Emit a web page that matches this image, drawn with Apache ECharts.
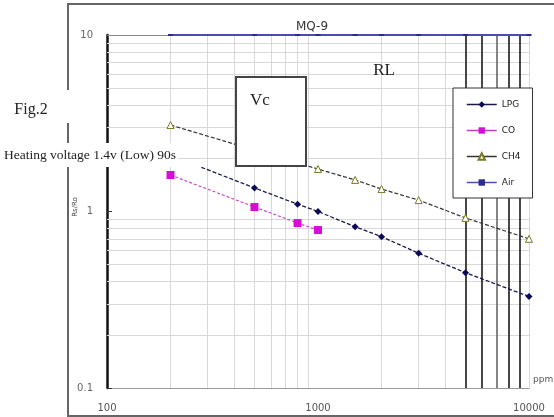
<!DOCTYPE html>
<html>
<head>
<meta charset="utf-8">
<script src="https://cdn.jsdelivr.net/npm/echarts@6/dist/echarts.min.js"></script>
<style>html,body{margin:0;padding:0;background:#fff;}#c{width:554px;height:417px;}</style>
</head>
<body>
<div id="c"></div>
<script>
// ---- data (ppm, Rs/Ro) ----
const seriesNames = ['LPG', 'CO', 'CH4', 'Air'];
const lpgPpm = [280, 500, 800, 1000, 1500, 2000, 3000, 5000, 10000];
const lpgRs  = [1.78, 1.36, 1.10, 1.00, 0.82, 0.72, 0.58, 0.45, 0.33];
const coPpm  = [200, 500, 800, 1000];
const coRs   = [1.61, 1.06, 0.86, 0.785];
const ch4Ppm = [200, 1000, 1500, 2000, 3000, 5000, 10000];
const ch4Rs  = [3.09, 1.74, 1.51, 1.34, 1.16, 0.92, 0.70];
const airPpm = [200, 500, 800, 1000, 1500, 2000, 3000, 5000, 10000];
const airRs  = [10, 10, 10, 10, 10, 10, 10, 10, 10];
// grid lines (axis values)
const gridXLight = [200, 300, 400, 500, 600, 700, 800, 900, 2000, 3000, 4000, 10000];
const gridXHeavy = [5000, 6000, 7000, 8000, 9000];
const gridYLight = [0.2, 0.3, 0.4, 0.5, 0.6, 0.7, 0.8, 0.9, 2, 3, 4, 5, 6, 7, 8, 9, 10];

const pair = (xs, ys) => xs.map((x, i) => [x, ys[i]]);

const chart = echarts.init(document.getElementById('c'), null, {renderer: 'canvas'});

const markData = [];
gridXLight.forEach(v => markData.push({xAxis: v, lineStyle: {color: '#d8d8d8', width: 1, type: 'solid'}}));
gridYLight.forEach(v => markData.push({yAxis: v, lineStyle: {color: v === 10 ? '#888' : '#d8d8d8', width: 1, type: 'solid'}}));
gridXHeavy.forEach(v => markData.push({xAxis: v, lineStyle: {color: v === 7000 ? '#666' : '#1a1a1a', width: 1.6, type: 'solid'}}));

const serifFont = '"Liberation Serif", "DejaVu Serif", serif';
const sansFont = '"DejaVu Sans", "Liberation Sans", sans-serif';

chart.setOption({
  animation: false,
  backgroundColor: '#fff',
  grid: {left: 107, right: 25, top: 35, bottom: 29, containLabel: false},
  legend: {
    data: seriesNames,
    orient: 'vertical',
    left: 453, top: 88,
    width: 83,
    backgroundColor: '#fff',
    borderColor: '#333', borderWidth: 1,
    padding: [12, 12, 11, 13],
    itemWidth: 30, itemHeight: 8, itemGap: 17,
    lineStyle: {type: 'solid', width: 1.5},
    textStyle: {fontSize: 9, color: '#222', fontFamily: sansFont},
    z: 20
  },
  xAxis: {
    type: 'log', logBase: 10, min: 100, max: 10000,
    axisLine: {lineStyle: {color: '#999', width: 1}},
    axisTick: {show: false},
    axisLabel: {margin: 15, fontSize: 10, color: '#555', fontFamily: sansFont, formatter: v => String(v)},
    splitLine: {show: false}
  },
  yAxis: {
    type: 'log', logBase: 10, min: 0.1, max: 10,
    axisLine: {show: true, lineStyle: {color: '#111', width: 2.5}},
    axisTick: {show: true, inside: true, length: 5, lineStyle: {color: '#333'}},
    axisLabel: {margin: 14, fontSize: 10, color: '#666', fontFamily: sansFont, formatter: v => String(v)},
    splitLine: {show: false}
  },
  series: [
    {
      name: 'grid', type: 'line', data: [], silent: true,
      markLine: {silent: true, symbol: 'none', label: {show: false}, animation: false, data: markData},
      z: 1
    },
    {
      name: 'LPG', type: 'line', z: 5,
      data: pair(lpgPpm, lpgRs).map((p, i) => i === 0 ? {value: p, symbol: 'none'} : p),
      symbol: 'diamond', symbolSize: 7,
      itemStyle: {color: '#0a0a5a'},
      lineStyle: {color: '#1a1a4a', width: 1.3, type: [4, 2]}
    },
    {
      name: 'CO', type: 'line', z: 5,
      data: pair(coPpm, coRs),
      symbol: 'rect', symbolSize: 8,
      itemStyle: {color: '#d80cd8'},
      lineStyle: {color: '#c040c0', width: 1.1, type: [3, 2]}
    },
    {
      name: 'CH4', type: 'line', z: 5,
      data: pair(ch4Ppm, ch4Rs),
      symbol: 'triangle', symbolSize: 7,
      itemStyle: {color: '#fff', borderColor: '#7a7a20', borderWidth: 1},
      lineStyle: {color: '#333', width: 1.2, type: [4, 2]}
    },
    {
      name: 'Air', type: 'line', z: 5,
      data: pair(airPpm, airRs),
      symbol: 'rect', symbolSize: [5, 2],
      itemStyle: {color: '#2a2a8a'},
      lineStyle: {color: '#4c4cb0', width: 2}
    }
  ],
  graphic: [
    {type: 'rect', z: 0, shape: {x: 68, y: 4, width: 520, height: 412}, style: {fill: 'none', stroke: '#666', lineWidth: 2}},
    {type: 'rect', z: 50, shape: {x: 60, y: 90, width: 16, height: 33}, style: {fill: '#fff'}},
    {type: 'rect', z: 100, shape: {x: 236, y: 77, width: 70, height: 89}, style: {fill: '#fff', stroke: '#444', lineWidth: 2}},
    {type: 'text', z: 101, x: 260, y: 101, style: {text: 'Vc', font: '17px ' + serifFont, fill: '#222', align: 'center', verticalAlign: 'middle'}},
    {type: 'text', z: 101, x: 384, y: 71, style: {text: 'RL', font: '17px ' + serifFont, fill: '#222', align: 'center', verticalAlign: 'middle'}},
    {type: 'text', z: 101, x: 312, y: 27, style: {text: 'MQ-9', font: '12px ' + sansFont, fill: '#333', align: 'center', verticalAlign: 'middle'}},
    {type: 'text', z: 101, x: 31, y: 110, style: {text: 'Fig.2', font: '16px ' + serifFont, fill: '#222', align: 'center', verticalAlign: 'middle'}},
    {type: 'text', z: 101, x: 178, y: 155, style: {text: 'Heating voltage 1.4v (Low) 90s', font: '13.5px ' + serifFont, fill: '#222', align: 'right', verticalAlign: 'middle', backgroundColor: '#fff', padding: [5, 2, 5, 2]}},
    {type: 'text', z: 101, x: 75, y: 207, rotation: Math.PI / 2, style: {text: 'Rs/Ro', font: '7px ' + sansFont, fill: '#444', align: 'center', verticalAlign: 'middle'}},
    {type: 'text', z: 101, x: 533, y: 380, style: {text: 'ppm', font: '9px ' + sansFont, fill: '#555', align: 'left', verticalAlign: 'middle'}}
  ]
});
</script>
</body>
</html>
